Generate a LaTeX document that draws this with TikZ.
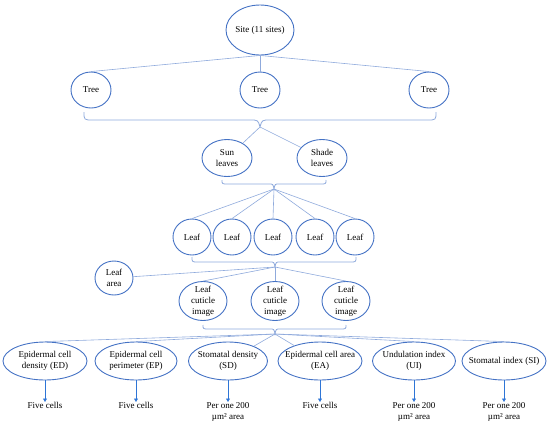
\documentclass[tikz,border=0pt]{standalone}
\usepackage{fontspec}
\setmainfont{Liberation Serif}
\usetikzlibrary{shapes.geometric,arrows.meta}
\definecolor{ringblue}{HTML}{4472C4}
\definecolor{linkblue}{HTML}{8FAADC}
\definecolor{arrowblue}{HTML}{2E75D6}

\begin{document}
\begin{tikzpicture}[x=1pt, y=-1pt,
        bubble/.style = {ellipse,
            draw=ringblue,
            line width=0.9pt,
            inner sep=-8pt,
            align=center,
            font=\fontsize{9}{11}\selectfont
        },
        link/.style = {draw=linkblue, line width=0.6pt},
        brace/.style = {draw=linkblue, line width=0.8pt},
        result/.style = {anchor=north,
            inner sep=0pt,
            align=center,
            font=\fontsize{9}{11}\selectfont
        },
        measure/.style = {draw=arrowblue, line width=0.6pt,
            -{Triangle[width=4pt,length=3.5pt]}}
        ]

    \useasboundingbox (0,0) rectangle (550,440);

    % Site
    \node [bubble, minimum width=68pt, minimum height=50pt] (site) at (260,30) {Site (11 sites)};

    % Trees
    \node [bubble, minimum width=40pt, minimum height=36pt] (treeA) at (91,90) {Tree};
    \node [bubble, minimum width=40pt, minimum height=36pt] (treeB) at (260,90) {Tree};
    \node [bubble, minimum width=40pt, minimum height=36pt] (treeC) at (429,90) {Tree};

    \draw [link] (site.south) -- (treeA.north);
    \draw [link] (site.south) -- (treeB.north);
    \draw [link] (site.south) -- (treeC.north);

    % Brace under trees
    \draw [brace] (84,112) .. controls (84,120) .. (93,120) -- (250,120)
        .. controls (258,120) .. (260,127) .. controls (262,120) .. (270,120)
        -- (427,120) .. controls (436,120) .. (436,112);
    \coordinate (knotA) at (260,127);

    % Sun and shade leaves
    \node [bubble, minimum width=50pt, minimum height=37pt] (sun) at (227,158) {Sun\\leaves};
    \node [bubble, minimum width=50pt, minimum height=37pt] (shade) at (322,158) {Shade\\leaves};

    \draw [link] (knotA) -- (sun);
    \draw [link] (knotA) -- (shade);

    % Brace under leaf types
    \draw [brace] (222,180) .. controls (222,184) .. (228,184) -- (269,184)
        .. controls (273,184) .. (274,189) .. controls (275,184) .. (279,184)
        -- (320,184) .. controls (326,184) .. (326,180);
    \coordinate (knotB) at (274,189);

    % Leaves
    \node [bubble, minimum width=38pt, minimum height=36pt] (leafA) at (192,237) {Leaf};
    \node [bubble, minimum width=38pt, minimum height=36pt] (leafB) at (232,237) {Leaf};
    \node [bubble, minimum width=38pt, minimum height=36pt] (leafC) at (273,237) {Leaf};
    \node [bubble, minimum width=38pt, minimum height=36pt] (leafD) at (315,237) {Leaf};
    \node [bubble, minimum width=38pt, minimum height=36pt] (leafE) at (355,237) {Leaf};

    \foreach \n in {A,B,C,D,E}
        \draw [link] (knotB) -- (leaf\n.north);

    % Brace under leaves
    \draw [brace] (192,257) .. controls (192,262) .. (198,262) -- (270,262)
        .. controls (274,262) .. (275,267) .. controls (276,262) .. (280,262)
        -- (350,262) .. controls (356,262) .. (356,257);
    \coordinate (knotC) at (275,267);

    % Leaf area
    \node [bubble, minimum width=38pt, minimum height=34pt] (area) at (114,278) {Leaf\\area};

    % Cuticle images
    \node [bubble, minimum width=48pt, minimum height=39pt] (cutA) at (203,301) {Leaf\\cuticle\\image};
    \node [bubble, minimum width=48pt, minimum height=39pt] (cutB) at (275,301) {Leaf\\cuticle\\image};
    \node [bubble, minimum width=48pt, minimum height=39pt] (cutC) at (346,301) {Leaf\\cuticle\\image};

    \draw [link] (knotC) -- (area);
    \foreach \n in {A,B,C}
        \draw [link] (knotC) -- (cut\n.north);

    % Brace under cuticle images
    \draw [brace] (203,325) .. controls (203,329) .. (209,329) -- (270,329)
        .. controls (274,329) .. (275,334) .. controls (276,329) .. (280,329)
        -- (340,329) .. controls (346,329) .. (346,325);
    \coordinate (knotD) at (275,334);

    % Traits
    \node [bubble, minimum width=84pt, minimum height=38pt] (ED) at (45,361) {Epidermal cell\\density (ED)};
    \node [bubble, minimum width=82pt, minimum height=38pt] (EP) at (136,361) {Epidermal cell\\perimeter (EP)};
    \node [bubble, minimum width=79pt, minimum height=38pt] (SD) at (228,361) {Stomatal density\\(SD)};
    \node [bubble, minimum width=84pt, minimum height=38pt] (EA) at (320,361) {Epidermal cell area\\(EA)};
    \node [bubble, minimum width=83pt, minimum height=38pt] (UI) at (414,361) {Undulation index\\(UI)};
    \node [bubble, minimum width=84pt, minimum height=38pt] (SI) at (504,361) {Stomatal index (SI)};

    \draw [link] (knotD) -- (ED.north);
    \draw [link] (knotD) -- (EP.north);
    \draw [link] (knotD) -- (SD);
    \draw [link] (knotD) -- (EA);
    \draw [link] (knotD) -- (UI.north);
    \draw [link] (knotD) -- (SI.north);

    % Sampling units
    \node [result] (EDu) at (45,402) {Five cells};
    \node [result] (EPu) at (136,402) {Five cells};
    \node [result] (SDu) at (228,402) {Per one 200\\µm² area};
    \node [result] (EAu) at (320,402) {Five cells};
    \node [result] (UIu) at (414,402) {Per one 200\\µm² area};
    \node [result] (SIu) at (504,402) {Per one 200\\µm² area};

    \foreach \n in {ED,EP,SD,EA,UI,SI}
        \draw [measure] (\n) -- (\n u);

\end{tikzpicture}
\end{document}
